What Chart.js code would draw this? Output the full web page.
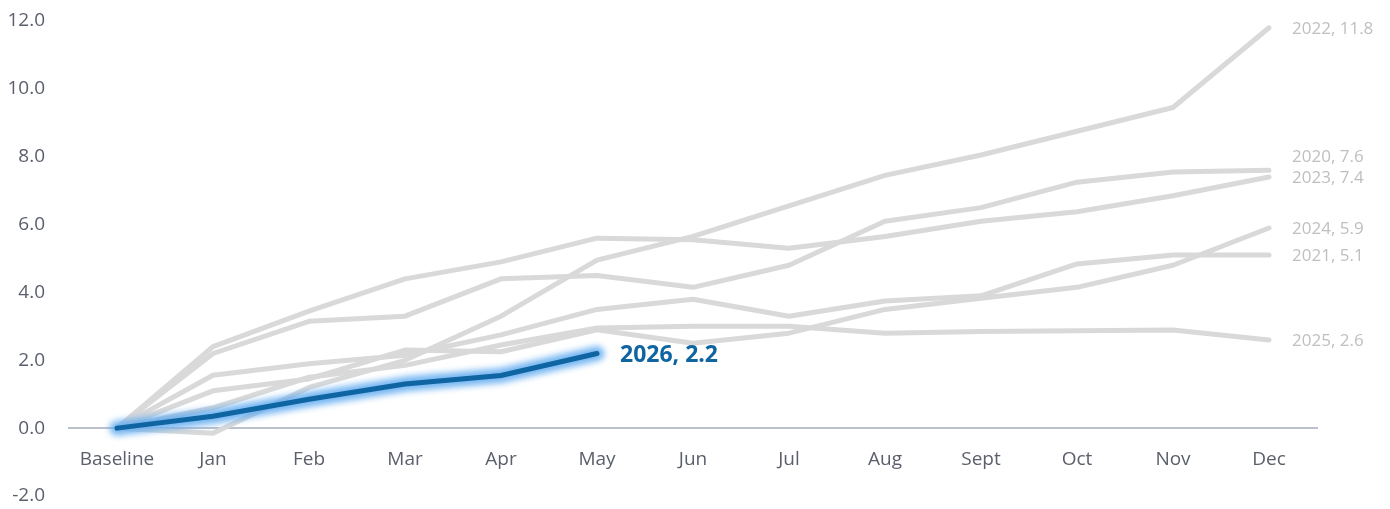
<!DOCTYPE html>
<html>
<head>
<meta charset="utf-8">
<script src="https://cdn.jsdelivr.net/npm/chart.js@4"></script>
<style>
  html, body { margin: 0; padding: 0; background: #fff; }
  #wrap { width: 1390px; height: 509px; }
</style>
</head>
<body>
<div id="wrap"><canvas id="chart"></canvas></div>
<script>
const categories = ["Baseline", "Jan", "Feb", "Mar", "Apr", "May", "Jun", "Jul", "Aug", "Sept", "Oct", "Nov", "Dec"];
const yTicks = [-2, 0, 2, 4, 6, 8, 10, 12];

const y2020 = [0, 2.2, 3.15, 3.3, 4.4, 4.5, 4.15, 4.8, 6.1, 6.5, 7.25, 7.55, 7.6];
const y2021 = [0, 1.56, 1.9, 2.15, 2.75, 3.5, 3.8, 3.3, 3.75, 3.9, 4.84, 5.1, 5.1];
const y2022 = [0, -0.15, 1.2, 2.0, 3.3, 4.95, 5.65, 6.55, 7.45, 8.05, 8.75, 9.45, 11.8];
const y2023 = [0, 2.4, 3.45, 4.4, 4.9, 5.6, 5.55, 5.3, 5.65, 6.1, 6.38, 6.85, 7.4];
const y2024 = [0, 1.1, 1.45, 2.3, 2.25, 2.9, 2.5, 2.8, 3.5, 3.83, 4.15, 4.8, 5.9];
const y2025 = [0, 0.6, 1.5, 1.85, 2.45, 2.95, 3.0, 3.0, 2.8, 2.85, 2.87, 2.89, 2.6];
const y2026 = [0, 0.35, 0.85, 1.3, 1.55, 2.2];

const GREY = "#d9d9d9";
const BLUE = "#0f64a2";
const FONT = "'Open Sans', 'Noto Sans', sans-serif";

function greyLine(label, data) {
    return {
        label: label,
        data: data,
        borderColor: GREY,
        borderWidth: 5,
        pointRadius: 0,
        tension: 0,
        borderCapStyle: "round",
        borderJoinStyle: "round"
    };
}

// 2026 goes first so it is drawn on top
const datasets = [
    {
        label: "2026",
        data: y2026,
        borderColor: BLUE,
        borderWidth: 5,
        pointRadius: 0,
        tension: 0,
        borderCapStyle: "round",
        borderJoinStyle: "round",
        glow: true
    },
    greyLine("2020", y2020),
    greyLine("2021", y2021),
    greyLine("2022", y2022),
    greyLine("2023", y2023),
    greyLine("2024", y2024),
    greyLine("2025", y2025)
];

// soft blue glow behind the current year, traced through the line's own points
const glowPlugin = {
    id: "glow",
    beforeDatasetDraw(chart, args) {
        if (!args.meta._dataset.glow) return;
        const ctx = chart.ctx;
        const pts = args.meta.data;
        ctx.save();
        ctx.filter = "blur(3px)";
        ctx.strokeStyle = "rgba(95,170,240,0.85)";
        ctx.lineWidth = 15;
        ctx.lineCap = "round";
        ctx.lineJoin = "round";
        ctx.beginPath();
        pts.forEach((p, i) => i ? ctx.lineTo(p.x, p.y) : ctx.moveTo(p.x, p.y));
        ctx.stroke();
        ctx.restore();
    }
};

// "year, value" labels at the end of each line
const endLabels = {
    id: "endLabels",
    afterDatasetsDraw(chart) {
        const ctx = chart.ctx;
        const items = [];
        chart.data.datasets.forEach((ds, i) => {
            const meta = chart.getDatasetMeta(i);
            const pt = meta.data[meta.data.length - 1];
            const val = ds.data[ds.data.length - 1];
            items.push({ text: `${ds.label}, ${val.toFixed(1)}`, x: pt.x + 23, y: pt.y, glow: ds.glow });
        });
        // push grey labels apart so they don't overlap
        const greys = items.filter(it => !it.glow).sort((a, b) => b.y - a.y);
        for (let i = 1; i < greys.length; i++) {
            if (greys[i - 1].y - greys[i].y < 21) greys[i].y = greys[i - 1].y - 21;
        }
        ctx.save();
        ctx.textBaseline = "middle";
        ctx.textAlign = "left";
        items.forEach(it => {
            if (it.glow) {
                ctx.font = "bold 23px " + FONT;
                ctx.fillStyle = BLUE;
                ctx.fillText(it.text, it.x, it.y + 2);
            } else {
                ctx.font = "17px " + FONT;
                ctx.fillStyle = "#bfbfbf";
                ctx.fillText(it.text, it.x, it.y + 1);
            }
        });
        ctx.restore();
    }
};

new Chart(document.getElementById("chart"), {
    type: "line",
    data: {
        labels: categories,
        datasets: datasets
    },
    options: {
        responsive: true,
        maintainAspectRatio: false,
        animation: false,
        layout: { padding: { top: 21, bottom: 13, left: 0, right: 73 } },
        plugins: {
            legend: { display: false },
            tooltip: { enabled: false }
        },
        scales: {
            x: {
                type: "category",
                offset: true,
                position: { y: 0 },
                grid: { display: false, drawTicks: false },
                border: { display: true, color: "#bcc1cb", width: 2 },
                ticks: {
                    color: "#5a5f6b",
                    font: { family: FONT, size: 19 },
                    padding: 20,
                    maxRotation: 0,
                    autoSkip: false
                }
            },
            y: {
                min: -2,
                max: 12,
                afterBuildTicks(scale) {
                    scale.ticks = yTicks.map(v => ({ value: v }));
                },
                afterFit(scale) { scale.width = 69; },
                // tick marks are hidden, their length only makes the gap to the labels
                grid: { display: false, drawTicks: true, tickLength: 24 },
                border: { display: false },
                ticks: {
                    color: "#5a5f6b",
                    font: { family: FONT, size: 19 },
                    padding: 0,
                    callback: v => v.toFixed(1)
                }
            }
        }
    },
    plugins: [glowPlugin, endLabels]
});
</script>
</body>
</html>
